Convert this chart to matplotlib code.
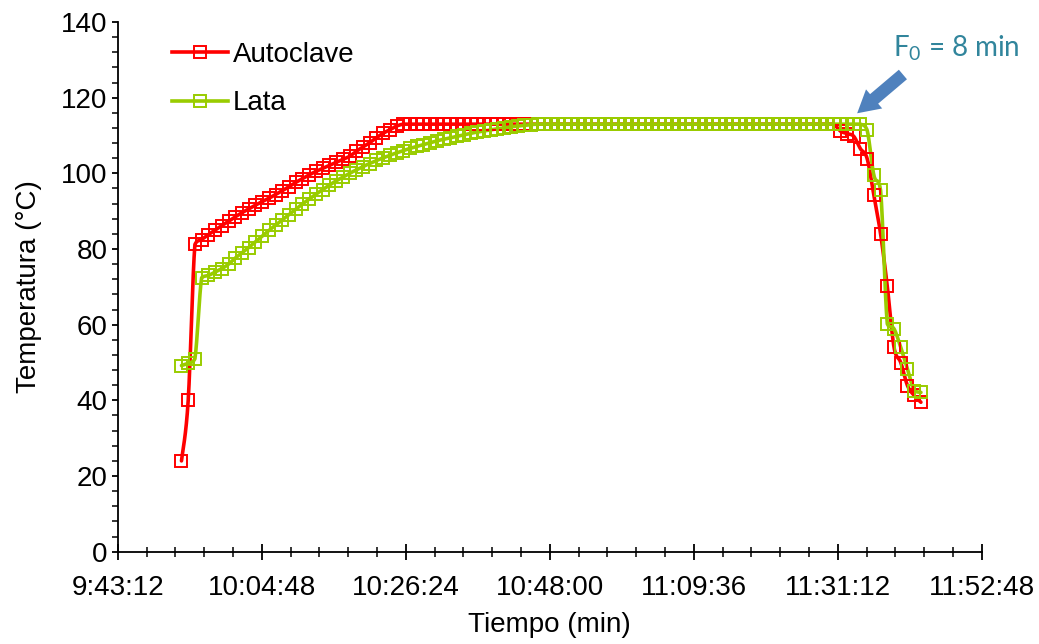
import numpy as np
import matplotlib
matplotlib.use("Agg")
import matplotlib.pyplot as plt
from matplotlib.ticker import MultipleLocator, FuncFormatter
from matplotlib.patches import FancyArrowPatch

# ---------------- data ----------------
series_names = ["Autoclave", "Lata"]
sample_start = "9:52:46"      # time of first reading
sample_interval_s = 60.5      # logger interval (s)

autoclave_temp = [
    24.0, 40.0, 81.2, 82.5, 83.8, 85.0, 86.2, 87.3, 88.5, 89.6,
    90.6, 91.6, 92.5, 93.4, 94.4, 95.4, 96.5, 97.6, 98.6, 99.6,
    100.5, 101.3, 102.1, 102.9, 103.7, 104.5, 105.8, 107.0, 108.1, 109.4,
    110.6, 111.5, 112.5, 113.0, 113.0, 113.0, 113.0, 113.0, 113.0, 113.0,
    113.0, 113.0, 113.0, 113.0, 113.0, 113.0, 113.0, 113.0, 113.0, 113.0,
    113.0, 113.0, 113.0, 113.0, 113.0, 113.0, 113.0, 113.0, 113.0, 113.0,
    113.0, 113.0, 113.0, 113.0, 113.0, 113.0, 113.0, 113.0, 113.0, 113.0,
    113.0, 113.0, 113.0, 113.0, 113.0, 113.0, 113.0, 113.0, 113.0, 113.0,
    113.0, 113.0, 113.0, 113.0, 113.0, 113.0, 113.0, 113.0, 113.0, 113.0,
    113.0, 113.0, 113.0, 113.0, 113.0, 113.0, 113.0, 113.0, 111.2, 110.5,
    109.8, 106.5, 103.9, 94.2, 84.0, 70.1, 54.0, 50.0, 43.9, 41.3,
    39.5,
]

lata_temp = [
    49.2, 49.8, 51.0, 72.4, 73.0, 73.9, 74.8, 76.0, 77.6, 79.0,
    80.4, 81.9, 83.4, 84.9, 86.3, 87.7, 89.1, 90.5, 91.9, 93.2,
    94.5, 95.7, 96.9, 98.0, 99.0, 100.0, 100.9, 101.8, 102.6, 103.4,
    104.1, 104.8, 105.4, 106.0, 106.6, 107.1, 107.6, 108.1, 108.6, 109.0,
    109.4, 109.8, 110.2, 110.6, 110.9, 111.2, 111.5, 111.8, 112.0, 112.3,
    112.5, 112.7, 112.9, 113.0, 113.0, 113.0, 113.0, 113.0, 113.0, 113.0,
    113.0, 113.0, 113.0, 113.0, 113.0, 113.0, 113.0, 113.0, 113.0, 113.0,
    113.0, 113.0, 113.0, 113.0, 113.0, 113.0, 113.0, 113.0, 113.0, 113.0,
    113.0, 113.0, 113.0, 113.0, 113.0, 113.0, 113.0, 113.0, 113.0, 113.0,
    113.0, 113.0, 113.0, 113.0, 113.0, 113.0, 113.0, 113.0, 113.0, 113.0,
    113.0, 113.0, 111.4, 99.5, 95.5, 60.2, 58.9, 54.0, 48.3, 42.6,
    42.1,
]

x_axis_start = "9:43:12"
x_axis_end = "11:52:48"
x_major_step_s = 1296   # 0:21:36
x_minor_step_s = 259.2
y_min, y_max, y_major, y_minor = 0, 140, 20, 4

annotation_text = "F$\\mathregular{_0}$ = 8 min"
annotation_tip = ("11:33:48", 115.4)
annotation_tail = ("11:41:18", 126.6)
annotation_label_pos = ("11:48:57", 133.1)

colors = {"Autoclave": "#FF0000", "Lata": "#99CC00"}


def hms_to_s(s):
    h, m, sec = [int(v) for v in s.split(":")]
    return h * 3600 + m * 60 + sec


def s_to_hms(v, pos=None):
    s = int(round(v))
    return f"{s // 3600}:{(s % 3600) // 60:02d}:{s % 60:02d}"


def smooth(x, y, n=16):
    """Excel-like smoothed line (cubic Bezier through the points)."""
    pts = np.column_stack([x, y]).astype(float)
    P = np.vstack([pts[0], pts, pts[-1]])
    out = []
    t = np.linspace(0, 1, n, endpoint=False)[:, None]
    for k in range(len(pts) - 1):
        p0, p1, p2, p3 = P[k], P[k + 1], P[k + 2], P[k + 3]
        c1 = p1 + (p2 - p0) / 6.0
        c2 = p2 - (p3 - p1) / 6.0
        lo, hi = min(p1[1], p2[1]), max(p1[1], p2[1])
        c1[1] = np.clip(c1[1], lo, hi)
        c2[1] = np.clip(c2[1], lo, hi)
        seg = ((1 - t) ** 3) * p1 + 3 * ((1 - t) ** 2) * t * c1 + 3 * (1 - t) * t ** 2 * c2 + t ** 3 * p2
        out.append(seg)
    out.append(pts[-1:])
    return np.vstack(out)


plt.rcParams["font.family"] = ["Liberation Sans", "DejaVu Sans"]

fig = plt.figure(figsize=(10.39, 6.44), dpi=100)
ax = fig.add_axes([117.7 / 1039, (644 - 551.7) / 644, 864 / 1039, 529.7 / 644])

LW = 2.6
MS = 8.0
MEW = 1.4

t0 = hms_to_s(sample_start)
for name, vals in zip(series_names, [autoclave_temp, lata_temp]):
    xs = t0 + sample_interval_s * np.arange(len(vals))
    ys = np.asarray(vals)
    c = colors[name]
    sm = smooth(xs, ys)
    ax.plot(sm[:, 0], sm[:, 1], color=c, lw=LW, solid_capstyle="round", zorder=3)
    ax.plot(xs, ys, ls="none", marker="s", ms=MS, mfc="none", mec=c, mew=MEW, zorder=4)
    ax.plot([], [], color=c, lw=LW, marker="s", ms=MS, mfc="none", mec=c, mew=MEW, label=name)

ax.set_xlim(hms_to_s(x_axis_start), hms_to_s(x_axis_end))
ax.set_ylim(y_min, y_max)
ax.xaxis.set_major_locator(MultipleLocator(x_major_step_s))
ax.xaxis.set_minor_locator(MultipleLocator(x_minor_step_s))
ax.xaxis.set_major_formatter(FuncFormatter(s_to_hms))
ax.yaxis.set_major_locator(MultipleLocator(y_major))
ax.yaxis.set_minor_locator(MultipleLocator(y_minor))

for s in ["top", "right"]:
    ax.spines[s].set_visible(False)
for s in ["left", "bottom"]:
    ax.spines[s].set_linewidth(1.3)
    ax.spines[s].set_color("black")

ax.tick_params(axis="x", which="major", direction="inout", length=12, width=1.3, labelsize=20, pad=11)
ax.tick_params(axis="x", which="minor", direction="inout", length=7.7, width=1.1)
ax.tick_params(axis="y", which="major", direction="out", length=4.3, width=1.3, labelsize=20, pad=3)
ax.tick_params(axis="y", which="minor", direction="out", length=4.3, width=1.1)

ax.set_xlabel("Tiempo (min)", fontsize=20, labelpad=8)
ax.set_ylabel("Temperatura (°C)", fontsize=20, labelpad=14)

leg = ax.legend(loc="upper left", bbox_to_anchor=(0.0628, 0.962), frameon=False, fontsize=20,
                handlelength=2.0, handletextpad=0.2, labelspacing=0.8, borderpad=0,
                borderaxespad=0, numpoints=1)

# annotation
arrow = FancyArrowPatch((hms_to_s(annotation_tail[0]), annotation_tail[1]),
                        (hms_to_s(annotation_tip[0]), annotation_tip[1]),
                        arrowstyle="simple,head_length=16,head_width=18,tail_width=9",
                        mutation_scale=1, color="#4F81BD", lw=0, zorder=6, clip_on=False)
ax.add_patch(arrow)
ax.text(hms_to_s(annotation_label_pos[0]), annotation_label_pos[1], annotation_text,
        fontsize=20, color="#31859C", family=["Lato", "DejaVu Sans"],
        ha="center", va="center", clip_on=False, zorder=7)

fig.savefig("out.png", dpi=100)
